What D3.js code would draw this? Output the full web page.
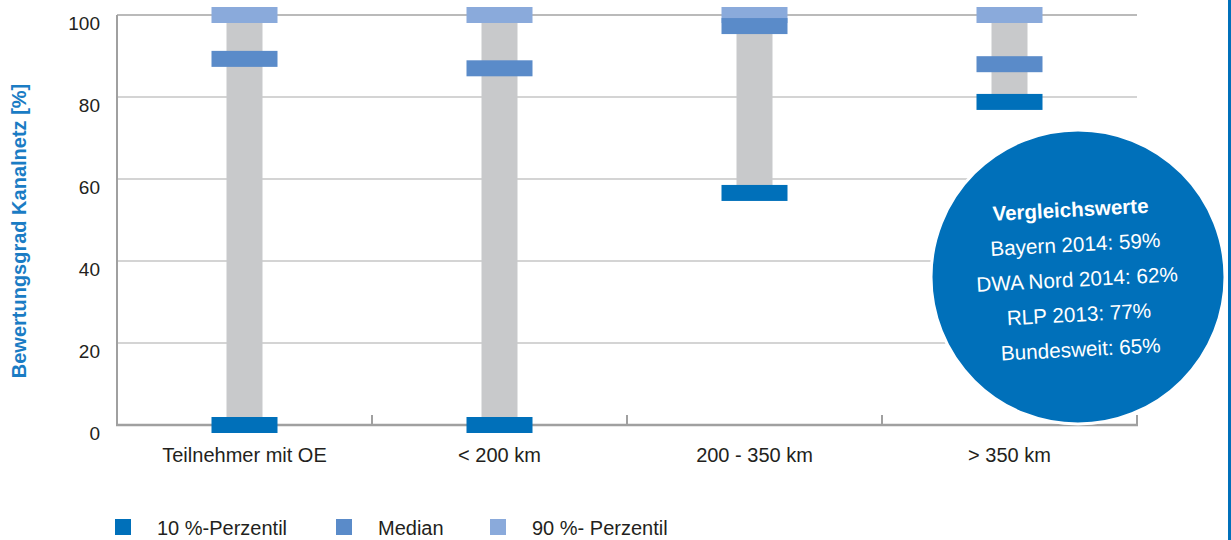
<!DOCTYPE html>
<html>
<head>
<meta charset="utf-8">
<script src="https://cdn.jsdelivr.net/npm/d3@7"></script>
<style>
  html, body { margin: 0; padding: 0; background: #fff; }
  svg { display: block; font-family: "Liberation Sans", Arial, sans-serif; }
</style>
</head>
<body>
<svg id="chart" width="1231" height="540"></svg>
<script>
const categories = ["Teilnehmer mit OE", "< 200 km", "200 - 350 km", "> 350 km"];
const p10 = [0, 0, 56.6, 78.8];
const median = [89.3, 87, 97.3, 88];
const p90 = [100, 100, 100, 100];
const yTicks = [0, 20, 40, 60, 80, 100];
const legendLabels = ["10 %-Perzentil", "Median", "90 %- Perzentil"];
const calloutTitle = "Vergleichswerte";
const calloutLines = ["Bayern 2014: 59%", "DWA Nord 2014: 62%", "RLP 2013: 77%", "Bundesweit: 65%"];

const colors = { p10: "#0070ba", median: "#5a8bc9", p90: "#8aaadb", range: "#c8c9cb" };
const blue = "#0070ba";

const svg = d3.select("#chart");
const x = d3.scaleBand().domain(categories).range([117, 1137]).padding(0);
const y = d3.scaleLinear().domain([0, 100]).range([425, 15]);
const cx = c => x(c) + x.bandwidth() / 2;

// gridlines
svg.append("g").selectAll("line").data(yTicks.filter(t => t > 0)).join("line")
  .attr("x1", 117).attr("x2", 1137)
  .attr("y1", d => y(d)).attr("y2", d => y(d))
  .attr("stroke", d => d === 100 ? "#a3a3a3" : "#c6c6c6")
  .attr("stroke-width", 1.5);

// y axis line
svg.append("line").attr("x1", 117).attr("x2", 117).attr("y1", y(100)).attr("y2", y(0) + 1)
  .attr("stroke", "#a0a0a0").attr("stroke-width", 2);

// y tick labels
svg.append("g").selectAll("text").data(yTicks).join("text")
  .attr("x", 100).attr("y", d => y(d) + 8)
  .attr("text-anchor", "end").attr("dominant-baseline", "central")
  .attr("font-size", 19).attr("fill", "#231f20")
  .text(d => d);

// y axis title
svg.append("text")
  .attr("transform", "translate(26,231) rotate(-90)")
  .attr("text-anchor", "middle")
  .attr("font-size", 20).attr("font-weight", "bold").attr("fill", "#1a7cc4")
  .text("Bewertungsgrad Kanalnetz [%]");

// x axis
svg.append("line").attr("x1", 116).attr("x2", 1138).attr("y1", y(0)).attr("y2", y(0))
  .attr("stroke", "#a0a0a0").attr("stroke-width", 2.5);
const bounds = categories.map(c => x(c)).concat([x(categories[categories.length - 1]) + x.bandwidth()]);
svg.append("g").selectAll("line").data(bounds).join("line")
  .attr("x1", d => d).attr("x2", d => d)
  .attr("y1", y(0)).attr("y2", y(0) - 10)
  .attr("stroke", "#a0a0a0").attr("stroke-width", 2);

svg.append("g").selectAll("text").data(categories).join("text")
  .attr("x", d => cx(d)).attr("y", 455)
  .attr("text-anchor", "middle").attr("dominant-baseline", "central")
  .attr("font-size", 20).attr("fill", "#231f20")
  .text(d => d);

// range bars
const bw = 36, mw = 66, mh = 16;
svg.append("g").selectAll("rect").data(categories).join("rect")
  .attr("x", d => cx(d) - bw / 2)
  .attr("y", (d, i) => y(p90[i]))
  .attr("width", bw)
  .attr("height", (d, i) => y(p10[i]) - y(p90[i]))
  .attr("fill", colors.range);

function markers(vals, color) {
  svg.append("g").selectAll("rect").data(categories).join("rect")
    .attr("x", d => cx(d) - mw / 2)
    .attr("y", (d, i) => y(vals[i]) - mh / 2)
    .attr("width", mw).attr("height", mh)
    .attr("fill", color);
}
markers(p90, colors.p90);
markers(median, colors.median);
markers(p10, colors.p10);

// legend
const legendPos = [{ sx: 115, tx: 157 }, { sx: 336, tx: 378 }, { sx: 490, tx: 532 }];
const legendColors = [colors.p10, colors.median, colors.p90];
const lg = svg.append("g");
legendLabels.forEach((l, i) => {
  lg.append("rect").attr("x", legendPos[i].sx).attr("y", 519).attr("width", 16).attr("height", 16)
    .attr("fill", legendColors[i]);
  lg.append("text").attr("x", legendPos[i].tx).attr("y", 528)
    .attr("dominant-baseline", "central").attr("font-size", 20).attr("fill", "#231f20")
    .text(l);
});

// callout circle
svg.append("circle").attr("cx", 1078).attr("cy", 277).attr("r", 147)
  .attr("fill", blue).attr("stroke", "#fff").attr("stroke-width", 3);
const tg = svg.append("g").attr("transform", "rotate(-3,1077,277)");
tg.append("text").attr("x", 1074).attr("y", 209)
  .attr("text-anchor", "middle").attr("dominant-baseline", "central")
  .attr("font-size", 20.5).attr("font-weight", "bold").attr("fill", "#fff")
  .text(calloutTitle);
calloutLines.forEach((l, i) => {
  tg.append("text").attr("x", 1077).attr("y", 244 + i * 35)
    .attr("text-anchor", "middle").attr("dominant-baseline", "central")
    .attr("font-size", 20.7).attr("fill", "#fff")
    .text(l);
});

// right border line
svg.append("line").attr("x1", 1229.5).attr("x2", 1229.5).attr("y1", 0).attr("y2", 540)
  .attr("stroke", blue).attr("stroke-width", 3);
</script>
</body>
</html>
